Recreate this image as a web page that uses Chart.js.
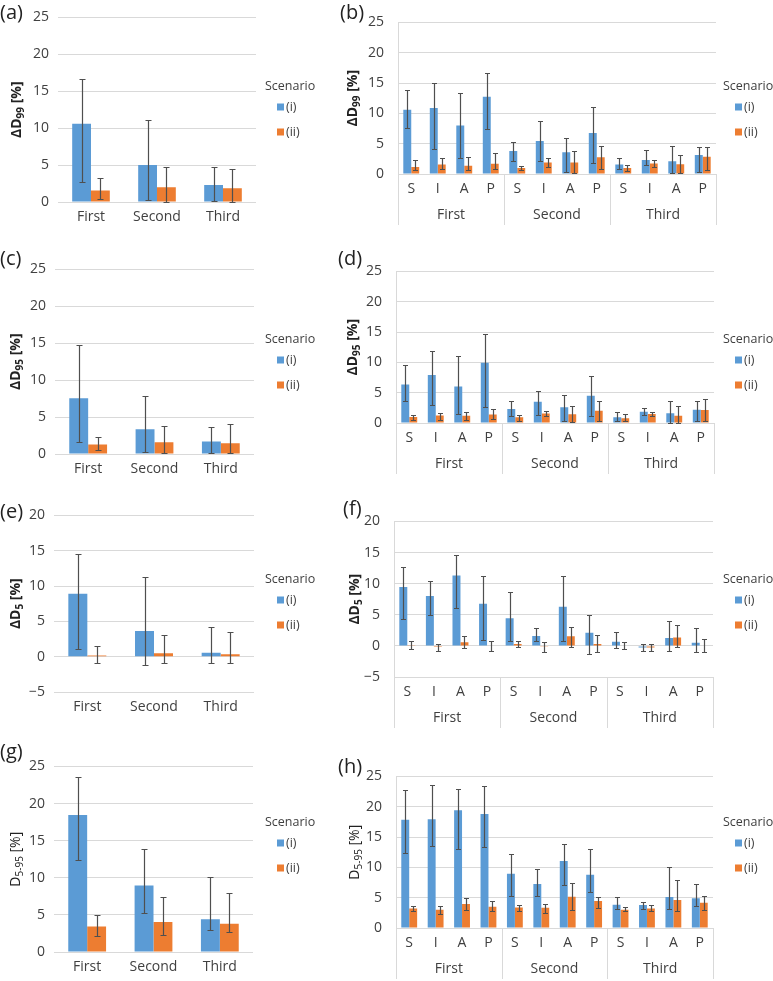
<!DOCTYPE html>
<html>
<head>
<meta charset="utf-8">
<script src="https://cdn.jsdelivr.net/npm/chart.js@4.4.1/dist/chart.umd.min.js"></script>
<style>
  html, body { margin: 0; padding: 0; background: #fff; }
  body { width: 773px; height: 981px; position: relative; overflow: hidden; }
  .panel { position: absolute; }
  .tag { position: absolute; font-family: 'Open Sans', sans-serif; font-size: 20px; line-height: 20px; color: #222; }
</style>
</head>
<body>
<script>
// ---- data ----
const sessions = ['First', 'Second', 'Third'];
const regions = ['S', 'I', 'A', 'P'];
const ticksPos = [0, 5, 10, 15, 20, 25];
const ticksNeg = [-5, 0, 5, 10, 15, 20];

// (a) dD99 per session
const d99_i = [10.6, 5.0, 2.3];
const d99_i_lo = [2.7, 0.3, 0.1];
const d99_i_hi = [16.7, 11.1, 4.7];
const d99_ii = [1.55, 2.0, 1.85];
const d99_ii_lo = [0.35, 0.05, 0.05];
const d99_ii_hi = [3.3, 4.7, 4.5];

// (b) dD99 per session and region
const d99r_i = [10.6, 10.9, 8.0, 12.75, 3.8, 5.45, 3.6, 6.75, 1.55, 2.3, 2.1, 3.15];
const d99r_i_lo = [7.6, 4.2, 2.6, 7.5, 2.1, 2.2, 0.25, 1.75, 0.9, 1.45, 0.15, 0.35];
const d99r_i_hi = [13.9, 15.0, 13.4, 16.6, 5.3, 8.75, 5.95, 11.0, 2.6, 4.0, 4.65, 4.5];
const d99r_ii = [1.15, 1.55, 1.35, 1.7, 1.0, 1.9, 1.9, 2.75, 1.0, 1.75, 1.6, 2.85];
const d99r_ii_lo = [0.7, 0.8, 0.7, 0.9, 0.7, 1.2, 0.15, 0.8, 0.55, 1.15, 0.1, 0.7];
const d99r_ii_hi = [2.3, 2.6, 2.8, 3.4, 1.3, 2.6, 3.85, 4.6, 1.45, 2.3, 3.2, 4.4];

// (c) dD95 per session
const d95_i = [7.55, 3.35, 1.7];
const d95_i_lo = [1.6, 0.3, 0.1];
const d95_i_hi = [14.8, 7.85, 3.7];
const d95_ii = [1.3, 1.6, 1.45];
const d95_ii_lo = [0.5, 0.1, 0.1];
const d95_ii_hi = [2.25, 3.8, 4.0];

// (d) dD95 per session and region
const d95r_i = [6.35, 7.9, 6.0, 9.95, 2.3, 3.5, 2.6, 4.5, 0.95, 1.85, 1.6, 2.2];
const d95r_i_lo = [3.65, 2.9, 1.45, 2.7, 1.2, 1.4, 0.25, 1.2, 0.25, 1.25, 0.05, 0.35];
const d95r_i_hi = [9.55, 11.85, 11.1, 14.75, 3.55, 5.2, 4.55, 7.8, 1.75, 2.4, 3.65, 3.55];
const d95r_ii = [1.0, 1.25, 1.2, 1.4, 0.95, 1.55, 1.45, 2.0, 0.8, 1.5, 1.2, 2.15];
const d95r_ii_lo = [0.45, 0.45, 0.45, 0.6, 0.25, 1.1, 0.1, 0.35, 0.25, 1.15, 0.05, 0.25];
const d95r_ii_hi = [1.4, 1.65, 1.85, 2.25, 1.3, 1.9, 2.85, 3.65, 1.45, 1.85, 2.8, 3.95];

// (e) dD5 per session
const d5_i = [8.9, 3.65, 0.55];
const d5_i_lo = [1.05, -1.15, -0.9];
const d5_i_hi = [14.55, 11.25, 4.15];
const d5_ii = [0.15, 0.5, 0.35];
const d5_ii_lo = [-0.85, -0.9, -0.9];
const d5_ii_hi = [1.55, 3.1, 3.45];

// (f) dD5 per session and region
const d5r_i = [9.45, 8.0, 11.3, 6.75, 4.45, 1.6, 6.3, 2.1, 0.65, -0.25, 1.25, 0.5];
const d5r_i_lo = [4.3, 5.0, 6.05, 0.9, 0.75, 0.75, 0.75, -1.25, -0.4, -0.85, -0.75, -0.95];
const d5r_i_hi = [12.7, 10.5, 14.55, 11.2, 8.65, 2.9, 11.2, 4.9, 2.2, 0.25, 4.05, 2.85];
const d5r_ii = [0.1, -0.2, 0.6, 0.05, 0.3, -0.15, 1.55, 0.3, 0.05, -0.25, 1.35, 0.05];
const d5r_ii_lo = [-0.5, -0.85, -0.35, -0.9, -0.25, -1.0, -0.2, -1.0, -0.45, -0.85, -0.2, -1.0];
const d5r_ii_hi = [0.8, 0.35, 1.55, 0.75, 0.8, 0.55, 3.1, 1.8, 0.55, 0.3, 3.4, 1.1];

// (g) D5-95 per session
const d595_i = [18.45, 8.95, 4.4];
const d595_i_lo = [12.4, 5.2, 3.0];
const d595_i_hi = [23.55, 13.85, 10.1];
const d595_ii = [3.45, 4.05, 3.8];
const d595_ii_lo = [2.2, 2.35, 2.65];
const d595_ii_hi = [4.95, 7.45, 7.9];

// (h) D5-95 per session and region
const d595r_i = [17.85, 17.95, 19.4, 18.8, 8.95, 7.25, 11.05, 8.8, 3.85, 3.8, 5.1, 4.9];
const d595r_i_lo = [12.4, 13.6, 13.1, 13.4, 5.25, 5.3, 7.05, 5.9, 3.1, 3.1, 3.1, 3.55];
const d595r_i_hi = [22.75, 23.55, 22.9, 23.45, 12.2, 9.7, 13.9, 13.0, 5.1, 4.3, 10.1, 7.3];
const d595r_ii = [3.2, 3.0, 3.95, 3.5, 3.4, 3.35, 5.15, 4.45, 3.0, 3.2, 4.6, 4.15];
const d595r_ii_lo = [2.8, 2.25, 3.0, 2.85, 2.85, 2.45, 3.05, 3.25, 2.75, 2.85, 2.8, 3.05];
const d595r_ii_hi = [3.65, 3.7, 5.0, 4.4, 3.85, 4.0, 7.4, 5.1, 3.4, 3.85, 7.9, 5.3];

// ---- styling ----
const FONT = "'Open Sans', sans-serif";
const BLUE = '#5b9bd5';
const ORANGE = '#ed7d31';
const GRID = '#d9d9d9';
const TEXT = '#404040';
const ERR = '#4f4f4f';

const regionLabels = sessions.flatMap(() => regions);
const dTitle = (sub) => [{ t: '\u0394D', bold: true }, { t: sub, bold: true, sub: true }, { t: ' [%]', bold: true }];
const pTitle = [{ t: 'D' }, { t: '5-95', sub: true }, { t: ' [%]' }];

// error bars from each dataset's errLow/errHigh arrays
const errorBars = {
  id: 'errorBars',
  afterDatasetsDraw(chart) {
    const ctx = chart.ctx;
    const y = chart.scales.y;
    const cap = chart.data.labels.length > 3 ? 2.5 : 3;
    ctx.save();
    ctx.strokeStyle = ERR;
    ctx.lineWidth = 1.2;
    chart.data.datasets.forEach((ds, di) => {
      chart.getDatasetMeta(di).data.forEach((bar, i) => {
        const x = Math.round(bar.x) + 0.5;
        const top = Math.round(y.getPixelForValue(ds.errHigh[i])) + 0.5;
        const bot = Math.round(y.getPixelForValue(ds.errLow[i])) + 0.5;
        ctx.beginPath();
        ctx.moveTo(x, top); ctx.lineTo(x, bot);
        ctx.moveTo(x - cap, top); ctx.lineTo(x + cap, top);
        ctx.moveTo(x - cap, bot); ctx.lineTo(x + cap, bot);
        ctx.stroke();
      });
    });
    ctx.restore();
  }
};

// axis title, legend and session grouping
function panelDecor(p) {
  return {
    id: 'panelDecor',
    afterDraw(chart) {
      const ctx = chart.ctx;
      const area = chart.chartArea;
      const [bx, by] = p.box;

      // rotated y title with subscript
      ctx.save();
      ctx.translate(p.titleX - bx, (area.top + area.bottom) / 2);
      ctx.rotate(-Math.PI / 2);
      ctx.fillStyle = '#222';
      ctx.textBaseline = 'middle';
      ctx.textAlign = 'left';
      const fontOf = s => (s.bold ? 'bold ' : '') + (s.sub ? 10 : 14) + 'px ' + FONT;
      let total = 0;
      p.title.forEach(s => { ctx.font = fontOf(s); total += ctx.measureText(s.t).width; });
      let tx = -total / 2;
      p.title.forEach(s => {
        ctx.font = fontOf(s);
        ctx.fillText(s.t, tx, s.sub ? 4 : 0);
        tx += ctx.measureText(s.t).width;
      });
      ctx.restore();

      // legend
      ctx.save();
      const lx = p.legend[0] - bx;
      const ly = p.legend[1] - by;
      ctx.font = '12.5px ' + FONT;
      ctx.fillStyle = TEXT;
      ctx.textBaseline = 'middle';
      ctx.fillText('Scenario', lx, ly);
      chart.data.datasets.forEach((ds, i) => {
        const yy = ly + 21 + i * 25;
        ctx.fillStyle = ds.backgroundColor;
        ctx.fillRect(lx + 12, yy - 3.5, 7, 7);
        ctx.fillStyle = TEXT;
        ctx.fillText(ds.label, lx + 21, yy);
      });
      ctx.restore();

      // two-level category axis
      if (p.grouped) {
        const n = chart.data.labels.length;
        const per = (area.right - area.left) / n;
        ctx.save();
        ctx.strokeStyle = GRID;
        ctx.lineWidth = 1;
        ctx.fillStyle = TEXT;
        ctx.font = '14px ' + FONT;
        ctx.textAlign = 'center';
        ctx.textBaseline = 'middle';
        for (let g = 0; g <= sessions.length; g++) {
          const x = Math.round(area.left + g * regions.length * per) + 0.5;
          ctx.beginPath();
          ctx.moveTo(x, area.bottom);
          ctx.lineTo(x, area.bottom + 51);
          ctx.stroke();
        }
        sessions.forEach((s, g) => {
          const cx = area.left + (g + 0.5) * regions.length * per;
          ctx.fillText(s, cx, area.bottom + 41);
        });
        ctx.restore();
      }
    }
  };
}

const panels = [
  { tag: '(a)', tagAt: [0, 2], box: [0, 0, 335, 240], plot: [58, 14, 256, 202], titleX: 17, legend: [265, 86],
    labels: sessions, yTicks: ticksPos, title: dTitle('99'),
    s1: [d99_i, d99_i_lo, d99_i_hi], s2: [d99_ii, d99_ii_lo, d99_ii_hi] },
  { tag: '(b)', tagAt: [340, 2], box: [335, 0, 438, 240], plot: [398, 14, 716, 174], titleX: 353, legend: [723, 86],
    labels: regionLabels, grouped: true, yTicks: ticksPos, title: dTitle('99'),
    s1: [d99r_i, d99r_i_lo, d99r_i_hi], s2: [d99r_ii, d99r_ii_lo, d99r_ii_hi] },
  { tag: '(c)', tagAt: [0, 248], box: [0, 252, 335, 240], plot: [55, 266, 254, 454], titleX: 16, legend: [265, 339],
    labels: sessions, yTicks: ticksPos, title: dTitle('95'),
    s1: [d95_i, d95_i_lo, d95_i_hi], s2: [d95_ii, d95_ii_lo, d95_ii_hi] },
  { tag: '(d)', tagAt: [338, 248], box: [335, 249, 438, 236], plot: [396, 263, 714, 423], titleX: 353, legend: [723, 339],
    labels: regionLabels, grouped: true, yTicks: ticksPos, title: dTitle('95'),
    s1: [d95r_i, d95r_i_lo, d95r_i_hi], s2: [d95r_ii, d95r_ii_lo, d95r_ii_hi] },
  { tag: '(e)', tagAt: [0, 501], box: [0, 498, 335, 232], plot: [54, 512, 254, 692], titleX: 16, legend: [265, 579],
    labels: sessions, yTicks: ticksNeg, title: dTitle('5'),
    s1: [d5_i, d5_i_lo, d5_i_hi], s2: [d5_ii, d5_ii_lo, d5_ii_hi] },
  { tag: '(f)', tagAt: [343, 498], box: [335, 499, 438, 238], plot: [394, 513, 713, 677], titleX: 355, legend: [723, 579],
    labels: regionLabels, grouped: true, yTicks: ticksNeg, title: dTitle('5'),
    s1: [d5r_i, d5r_i_lo, d5r_i_hi], s2: [d5r_ii, d5r_ii_lo, d5r_ii_hi] },
  { tag: '(g)', tagAt: [0, 741], box: [0, 749, 335, 232], plot: [54, 763, 253, 952], titleX: 16, legend: [265, 822],
    labels: sessions, yTicks: ticksPos, title: pTitle,
    s1: [d595_i, d595_i_lo, d595_i_hi], s2: [d595_ii, d595_ii_lo, d595_ii_hi] },
  { tag: '(h)', tagAt: [338, 756], box: [335, 754, 438, 227], plot: [396, 768, 713, 928], titleX: 355, legend: [723, 822],
    labels: regionLabels, grouped: true, yTicks: ticksPos, title: pTitle,
    s1: [d595r_i, d595r_i_lo, d595r_i_hi], s2: [d595r_ii, d595r_ii_lo, d595r_ii_hi] }
];

function drawPanel(p) {
  const [bx, by, bw, bh] = p.box;
  const [pl, pt, pr, pb] = p.plot;

  const tag = document.createElement('div');
  tag.className = 'tag';
  tag.textContent = p.tag;
  tag.style.left = p.tagAt[0] + 'px';
  tag.style.top = p.tagAt[1] + 'px';

  const canvas = document.createElement('canvas');
  canvas.className = 'panel';
  canvas.width = bw;
  canvas.height = bh;
  canvas.style.left = bx + 'px';
  canvas.style.top = by + 'px';
  canvas.style.width = bw + 'px';
  canvas.style.height = bh + 'px';
  document.body.appendChild(canvas);
  document.body.appendChild(tag);

  const yWidth = pl - bx;
  const xHeight = by + bh - pb;
  const frac = p.grouped ? 0.6 : 0.57;

  new Chart(canvas.getContext('2d'), {
    type: 'bar',
    data: {
      labels: p.labels,
      datasets: [
        { label: '(i)', data: p.s1[0], errLow: p.s1[1], errHigh: p.s1[2], backgroundColor: BLUE,
          barPercentage: 1, categoryPercentage: frac },
        { label: '(ii)', data: p.s2[0], errLow: p.s2[1], errHigh: p.s2[2], backgroundColor: ORANGE,
          barPercentage: 1, categoryPercentage: frac }
      ]
    },
    options: {
      responsive: false,
      animation: false,
      devicePixelRatio: 1,
      layout: { padding: { top: pt - by, right: bx + bw - pr, left: 0, bottom: 0 } },
      plugins: {
        legend: { display: false },
        tooltip: { enabled: false }
      },
      scales: {
        x: {
          grid: { display: false, drawTicks: false },
          border: { display: false },
          ticks: { color: TEXT, font: { family: FONT, size: 14 }, padding: 7, autoSkip: false, maxRotation: 0 },
          afterFit(s) { s.height = xHeight; }
        },
        y: {
          min: p.yTicks[0],
          max: p.yTicks[p.yTicks.length - 1],
          grid: { color: GRID, drawTicks: false },
          border: { display: !!p.grouped, color: GRID },
          ticks: {
            color: TEXT, font: { family: FONT, size: 14 }, padding: p.grouped ? 14 : 9,
            callback: v => (v < 0 ? '\u2212' + Math.abs(v) : String(v))
          },
          afterBuildTicks(s) { s.ticks = p.yTicks.map(v => ({ value: v })); },
          afterFit(s) { s.width = yWidth; }
        }
      }
    },
    plugins: [errorBars, panelDecor(p)]
  });
}

panels.forEach(drawPanel);
</script>
</body>
</html>
